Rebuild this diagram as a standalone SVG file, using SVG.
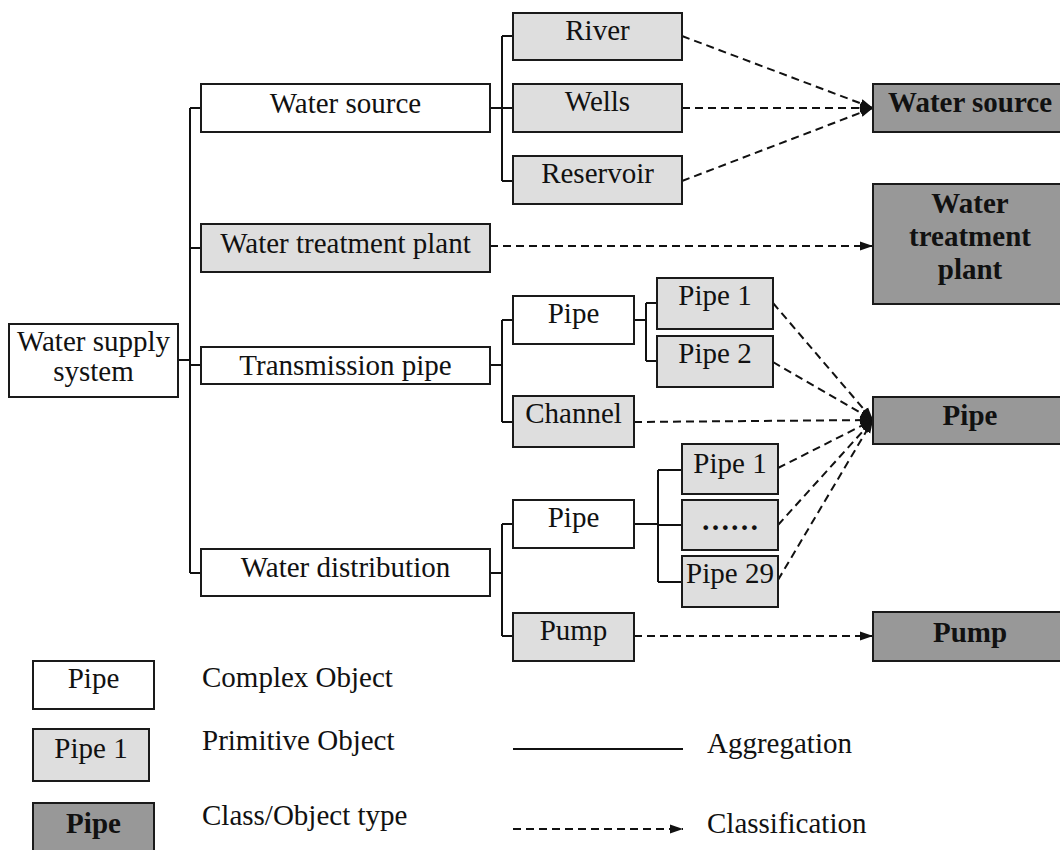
<svg xmlns="http://www.w3.org/2000/svg" width="1060" height="850" viewBox="0 0 1060 850" font-family="'Liberation Serif', 'Times New Roman', serif" font-size="29">
<style>
text{font-family:"Liberation Serif","Times New Roman",serif;font-size:29px;fill:#111;}
.tmid{text-anchor:middle;}
.tbold{font-weight:bold;}
.bx-complex{fill:#fff;stroke:#1a1a1a;stroke-width:2;}
.bx-prim{fill:#dedede;stroke:#1a1a1a;stroke-width:2;}
.bx-class{fill:#989898;stroke:#1a1a1a;stroke-width:2;}
.ln-agg{fill:none;stroke:#111;stroke-width:2;}
.ln-cls{fill:none;stroke:#111;stroke-width:2;stroke-dasharray:8 5;marker-end:url(#ah);}
</style>
<defs>
<marker id="ah" markerUnits="userSpaceOnUse" markerWidth="14" markerHeight="10" refX="13" refY="5" orient="auto">
<path d="M0,0.5 L13,5 L0,9.5 z" fill="#111"/>
</marker>
</defs>
<rect width="1060" height="850" fill="#fff"/>

<g id="connectors">
<path class="ln-agg" d="M178,360 H190 M190,108 V573 M190,108 H201 M190,248 H201 M190,365 H201 M190,573 H201"/>
<path class="ln-agg" d="M490,108 H513 M502,36 V181 M502,36 H513 M502,181 H513"/>
<path class="ln-agg" d="M490,365 H502 M502,320 V422 M502,320 H513 M502,422 H513"/>
<path class="ln-agg" d="M634,320 H646 M646,303 V361 M646,303 H657 M646,361 H657"/>
<path class="ln-agg" d="M490,573 H502 M502,524 V636 M502,524 H513 M502,636 H513"/>
<path class="ln-agg" d="M634,524 H658 M658,470 V582 M658,470 H682 M658,525 H682 M658,582 H682"/>
<line class="ln-cls" x1="682" y1="36" x2="873" y2="108"/>
<line class="ln-cls" x1="682" y1="108" x2="873" y2="108"/>
<line class="ln-cls" x1="682" y1="181" x2="873" y2="108"/>
<line class="ln-cls" x1="490" y1="246" x2="873" y2="246"/>
<line class="ln-cls" x1="773" y1="303" x2="873" y2="420"/>
<line class="ln-cls" x1="773" y1="362" x2="873" y2="420"/>
<line class="ln-cls" x1="634" y1="422" x2="873" y2="420"/>
<line class="ln-cls" x1="778" y1="468" x2="873" y2="420"/>
<line class="ln-cls" x1="778" y1="525" x2="873" y2="420"/>
<line class="ln-cls" x1="778" y1="580" x2="873" y2="420"/>
<line class="ln-cls" x1="634" y1="636" x2="873" y2="636"/>
</g>

<g id="water-supply-system">
<rect class="bx-complex" x="9" y="324" width="169" height="73"/>
<text class="tmid" x="93.5" y="351">Water supply</text>
<text class="tmid" x="93.5" y="381">system</text>
</g>

<g id="water-source">
<rect class="bx-complex" x="201" y="84" width="289" height="48"/>
<text class="tmid" x="345.5" y="113">Water source</text>
</g>
<g id="water-treatment-plant">
<rect class="bx-prim" x="201" y="224" width="289" height="48"/>
<text class="tmid" x="345.5" y="253">Water treatment plant</text>
</g>
<g id="transmission-pipe">
<rect class="bx-complex" x="201" y="347" width="289" height="37"/>
<text class="tmid" x="345.5" y="375">Transmission pipe</text>
</g>
<g id="water-distribution">
<rect class="bx-complex" x="201" y="549" width="289" height="47"/>
<text class="tmid" x="345.5" y="577">Water distribution</text>
</g>

<g id="river">
<rect class="bx-prim" x="513" y="13" width="169" height="47"/>
<text class="tmid" x="597.5" y="40">River</text>
</g>
<g id="wells">
<rect class="bx-prim" x="513" y="84" width="169" height="48"/>
<text class="tmid" x="597.5" y="111">Wells</text>
</g>
<g id="reservoir">
<rect class="bx-prim" x="513" y="156" width="169" height="48"/>
<text class="tmid" x="597.5" y="183">Reservoir</text>
</g>

<g id="trans-pipe">
<rect class="bx-complex" x="513" y="296" width="121" height="48"/>
<text class="tmid" x="573.5" y="323">Pipe</text>
</g>
<g id="channel">
<rect class="bx-prim" x="513" y="396" width="121" height="51"/>
<text class="tmid" x="573.5" y="423">Channel</text>
</g>
<g id="trans-pipe-1">
<rect class="bx-prim" x="657" y="278" width="116" height="51"/>
<text class="tmid" x="715" y="305">Pipe 1</text>
</g>
<g id="trans-pipe-2">
<rect class="bx-prim" x="657" y="336" width="116" height="51"/>
<text class="tmid" x="715" y="363">Pipe 2</text>
</g>

<g id="dist-pipe">
<rect class="bx-complex" x="513" y="500" width="121" height="48"/>
<text class="tmid" x="573.5" y="527">Pipe</text>
</g>
<g id="pump">
<rect class="bx-prim" x="513" y="613" width="121" height="48"/>
<text class="tmid" x="573.5" y="640">Pump</text>
</g>
<g id="dist-pipe-1">
<rect class="bx-prim" x="682" y="444" width="96" height="50"/>
<text class="tmid" x="730" y="473">Pipe 1</text>
</g>
<g id="dist-pipe-dots">
<rect class="bx-prim" x="682" y="500" width="96" height="50"/>
<text class="tmid tbold" x="730" y="530">……</text>
</g>
<g id="dist-pipe-29">
<rect class="bx-prim" x="682" y="556" width="96" height="51"/>
<text class="tmid" x="730" y="583">Pipe 29</text>
</g>

<g id="class-water-source">
<rect class="bx-class" x="873" y="84" width="200" height="48"/>
<text class="tmid tbold" x="970" y="112">Water source</text>
</g>
<g id="class-water-treatment-plant">
<rect class="bx-class" x="873" y="184" width="200" height="120"/>
<text class="tmid tbold" x="970" y="213">Water</text>
<text class="tmid tbold" x="970" y="246">treatment</text>
<text class="tmid tbold" x="970" y="279">plant</text>
</g>
<g id="class-pipe">
<rect class="bx-class" x="873" y="397" width="200" height="47"/>
<text class="tmid tbold" x="970" y="425">Pipe</text>
</g>
<g id="class-pump">
<rect class="bx-class" x="873" y="612" width="200" height="49"/>
<text class="tmid tbold" x="970" y="642">Pump</text>
</g>

<g id="legend">
<rect class="bx-complex" x="33" y="661" width="121" height="48"/>
<text class="tmid" x="93.5" y="688">Pipe</text>
<text x="202" y="687">Complex Object</text>
<rect class="bx-prim" x="33" y="729" width="116" height="52"/>
<text class="tmid" x="91" y="758">Pipe 1</text>
<text x="202" y="750">Primitive Object</text>
<rect class="bx-class" x="33" y="803" width="121" height="60"/>
<text class="tmid tbold" x="93.5" y="833">Pipe</text>
<text x="202" y="825">Class/Object type</text>
<line class="ln-agg" x1="513" y1="749" x2="683" y2="749"/>
<text x="707" y="753">Aggregation</text>
<line class="ln-cls" x1="513" y1="829" x2="683" y2="829"/>
<text x="707" y="833">Classification</text>
</g>
</svg>
